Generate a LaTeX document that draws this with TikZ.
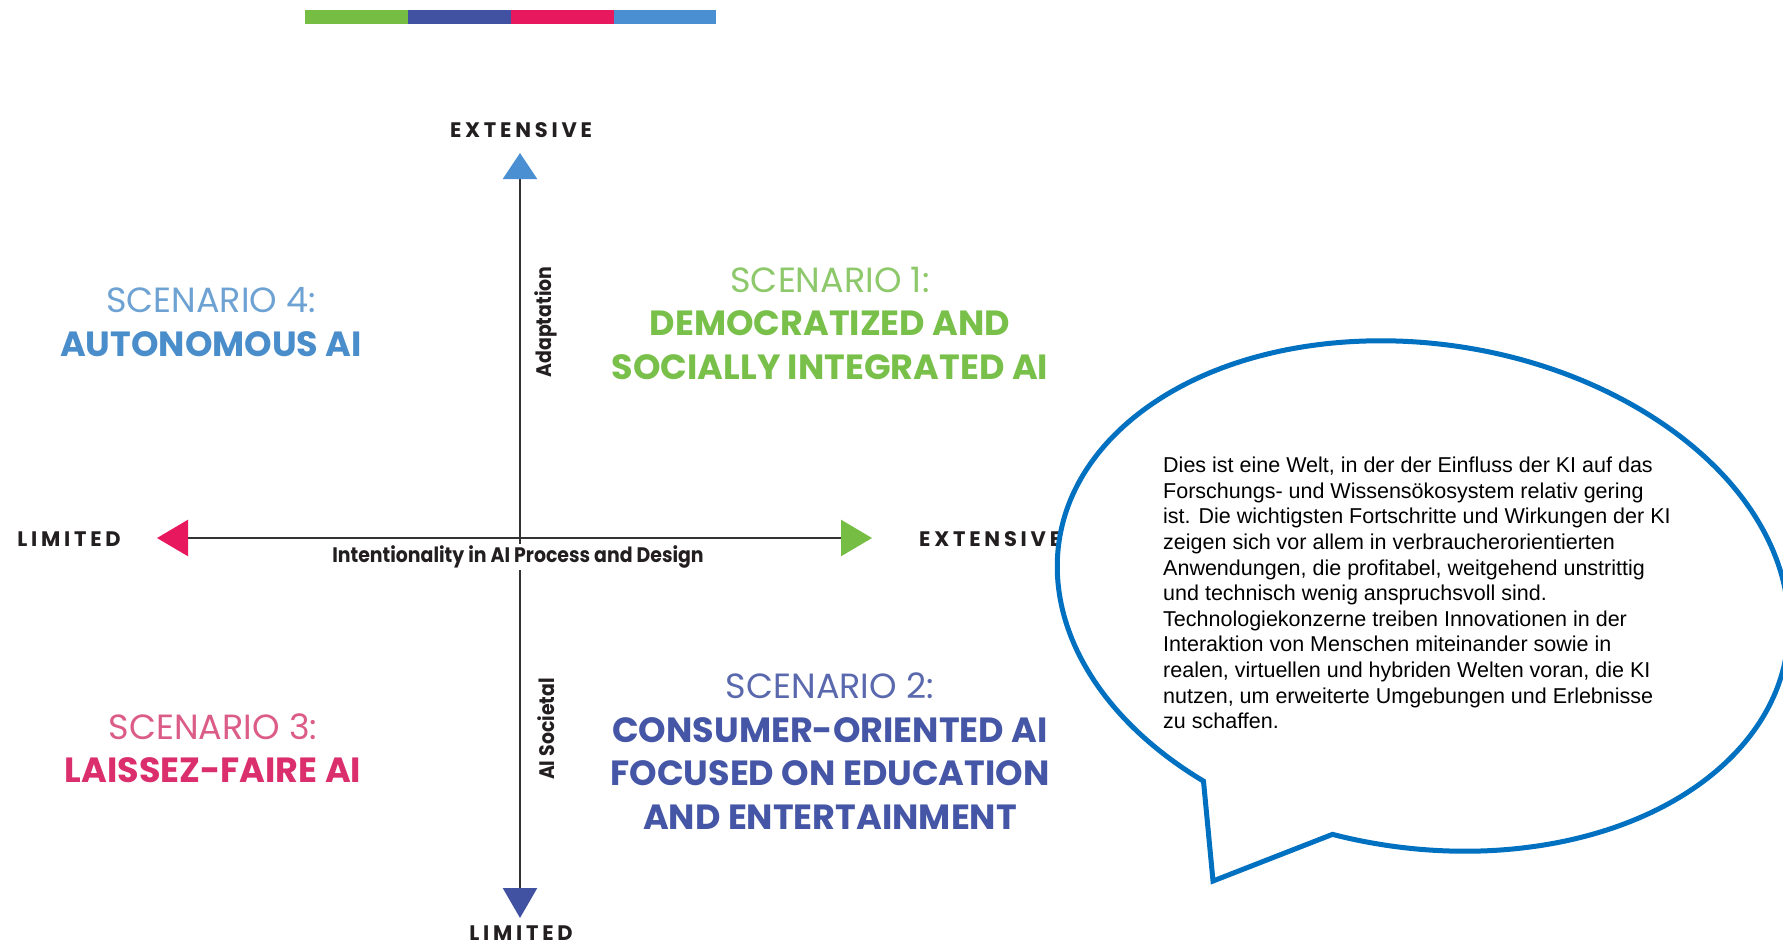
\documentclass[tikz,border=0pt]{standalone}
\usepackage{fontspec}
\setmainfont{Liberation Sans}
\newfontfamily\fut{Poppins}
\newfontfamily\futn{Poppins}[FakeStretch=0.9]
\newfontfamily\futsp{Poppins}[LetterSpace=18]
\usetikzlibrary{arrows.meta}
\definecolor{bgreen}{HTML}{76BD43}
\definecolor{bdark}{HTML}{4152A2}
\definecolor{bpink}{HTML}{E8185F}
\definecolor{blight}{HTML}{4A8FD2}
\definecolor{tgreen}{HTML}{78C04A}
\definecolor{tgreenL}{HTML}{8DC86B}
\definecolor{tdark}{HTML}{4556A6}
\definecolor{tdarkL}{HTML}{5A69AE}
\definecolor{tpink}{HTML}{DB2E6C}
\definecolor{tpinkL}{HTML}{DC5C88}
\definecolor{tlight}{HTML}{4A8DCB}
\definecolor{tlightL}{HTML}{6DA2D3}
\definecolor{axtext}{HTML}{231F20}
\definecolor{axline}{HTML}{333333}
\definecolor{bubblue}{HTML}{0070C0}
\begin{document}
\begin{tikzpicture}[x=1pt,y=-1pt,
  axis/.style={draw=axline, line width=2.5pt},
  axlab/.style={inner sep=0, text=axtext, font=\futsp\bfseries\fontsize{21}{24}\selectfont},
  rotlab/.style={inner sep=0, text=axtext, font=\futn\bfseries\fontsize{21}{24}\selectfont},
  scen/.style={align=center, inner sep=0, font=\fut\fontsize{35}{43.5}\selectfont},
  bubble/.style={draw=bubblue, line width=5pt, fill=white, line join=miter}]
\clip (0,0) rectangle (1783,946);
\fill[white] (0,0) rectangle (1783,946);
% colour bar
\fill[bgreen] (305,10) rectangle (408,24);
\fill[bdark] (408,10) rectangle (511,24);
\fill[bpink] (511,10) rectangle (614,24);
\fill[blight] (614,10) rectangle (716,24);
% axes
\coordinate (top) at (520,153);
\coordinate (bot) at (520,918);
\coordinate (lft) at (157,538);
\coordinate (rgt) at (872,538);
\draw[axis, {Triangle[length=30pt,width=34pt,color=bdark]}-{Triangle[length=26pt,width=34pt,color=blight]}] (bot) -- (top);
\draw[axis, {Triangle[length=31pt,width=36pt,color=bpink]}-{Triangle[length=31pt,width=36pt,color=bgreen]}] (lft) -- (rgt);
\node[rotlab, fill=white, inner xsep=4pt, inner ysep=2pt] (intent) at (518,557) {Intentionality in AI Process and Design};
\node[rotlab, rotate=90] (adapt) at (546,322) {Adaptation};
\node[rotlab, rotate=90] (soc) at (546,729) {AI Societal};
\node[axlab] (extT) at (521,130) {EXTENSIVE};
\node[axlab] (limB) at (521,933) {LIMITED};
\node[axlab] (limL) at (69,539) {LIMITED};
\node[axlab, anchor=west] (extR) at (919,539) {EXTENSIVE};
% scenarios
\node[scen, text=tgreen] (s1) at (830,323) {{\textcolor{tgreenL}{SCENARIO 1:}}\\{\bfseries DEMOCRATIZED AND}\\{\bfseries SOCIALLY INTEGRATED AI}};
\node[scen, text=tdark] (s2) at (830,751) {{\textcolor{tdarkL}{SCENARIO 2:}}\\{\bfseries CONSUMER-ORIENTED AI}\\{\bfseries FOCUSED ON EDUCATION}\\{\bfseries AND ENTERTAINMENT}};
\node[scen, text=tpink] (s3) at (213,748) {{\textcolor{tpinkL}{SCENARIO 3:}}\\{\bfseries LAISSEZ-FAIRE AI}};
\node[scen, text=tlight] (s4) at (211,322) {{\textcolor{tlightL}{SCENARIO 4:}}\\{\bfseries AUTONOMOUS AI}};
% speech bubble
\coordinate (tip) at (1213,881);
\begin{scope}[shift={(1423,596)}, rotate=-8.7]
\draw[bubble] (120.9:368 and 252) arc[start angle=120.9, end angle=458.35, x radius=368, y radius=252] -- (tip) -- cycle;
\end{scope}
\node[anchor=north west, align=left, inner sep=0, font=\fontsize{21.5}{25.6}\selectfont] (txt) at (1163,457) {Dies ist eine Welt, in der der Einfluss der KI auf das\\Forschungs- und Wissensökosystem relativ gering\\ist. Die wichtigsten Fortschritte und Wirkungen der KI\\zeigen sich vor allem in verbraucherorientierten\\Anwendungen, die profitabel, weitgehend unstrittig\\und technisch wenig anspruchsvoll sind.\\Technologiekonzerne treiben Innovationen in der\\Interaktion von Menschen miteinander sowie in\\realen, virtuellen und hybriden Welten voran, die KI\\nutzen, um erweiterte Umgebungen und Erlebnisse\\zu schaffen.};
\end{tikzpicture}
\end{document}
